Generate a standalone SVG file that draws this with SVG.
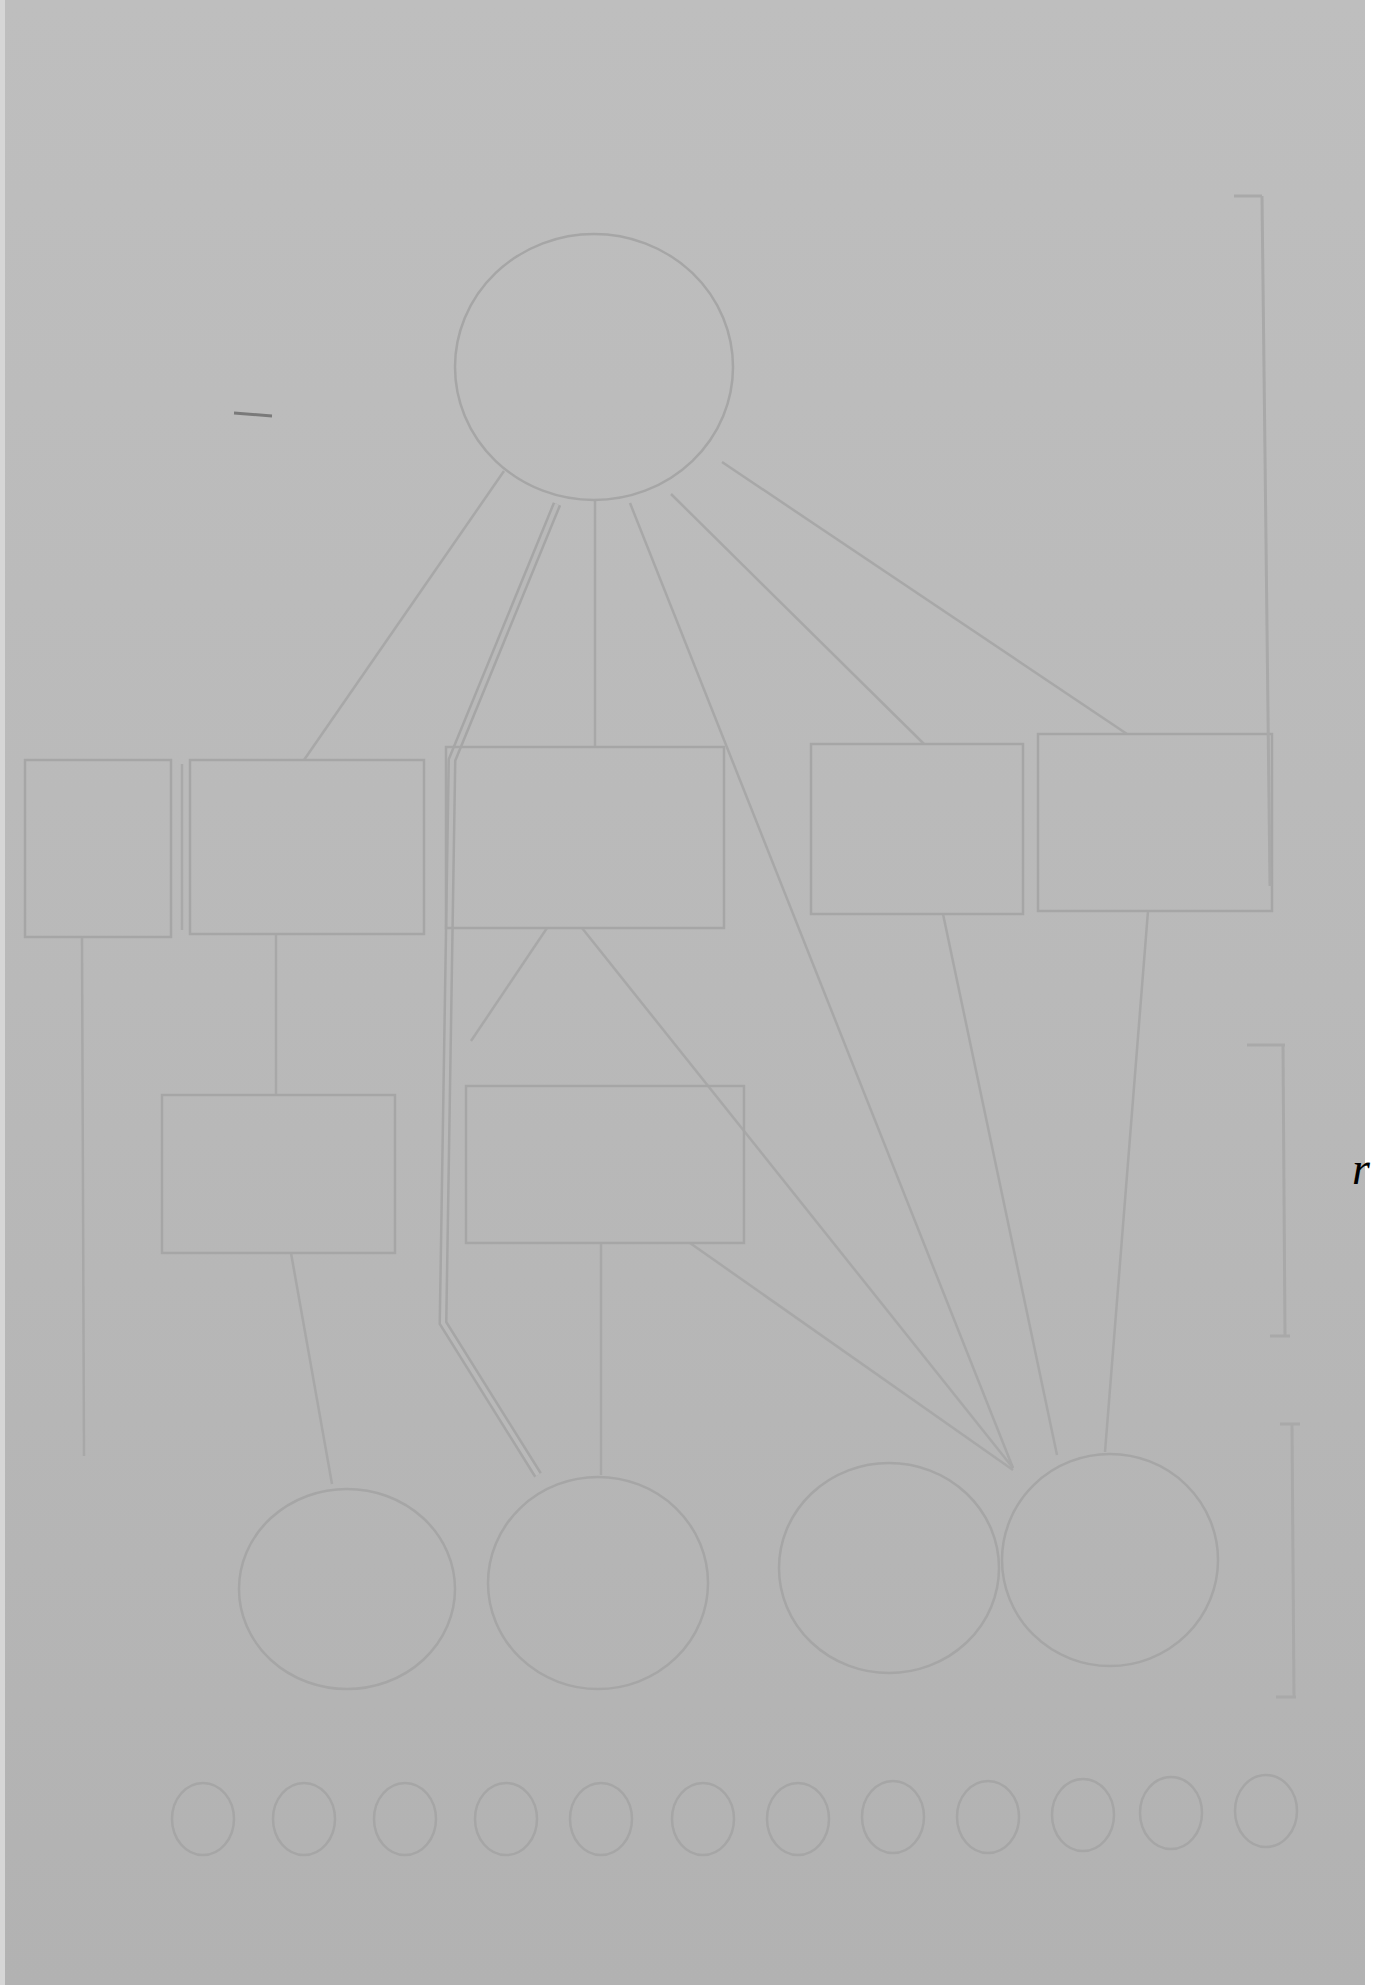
<svg xmlns="http://www.w3.org/2000/svg" width="1380" height="1985" viewBox="0 0 1380 1985">
<style>
.node{fill:none;stroke:#a6a6a6;stroke-width:2.5}
.edge{fill:none;stroke:#a8a8a8;stroke-width:2.5}
.dbl{fill:none;stroke:#a6a6a6;stroke-width:9}
.dblin{fill:none;stroke:#b9b9b9;stroke-width:4}
.brk{fill:none;stroke:#a9a9a9;stroke-width:3}
.sm{fill:none;stroke:#a9a9a9;stroke-width:2.5}
</style>
<defs>
<linearGradient id="bg" x1="0" y1="0" x2="0" y2="1">
<stop offset="0" stop-color="#bebebe"/>
<stop offset="0.5" stop-color="#b9b9b9"/>
<stop offset="1" stop-color="#b2b2b2"/>
</linearGradient>
</defs>
<rect x="0" y="0" width="1380" height="1985" fill="url(#bg)"/>
<rect x="0" y="0" width="5" height="1985" fill="#d6d6d6"/>
<rect x="1365" y="0" width="15" height="1985" fill="#ffffff"/>

<g id="connectors">
<line class="edge" x1="504" y1="471" x2="304" y2="760"/>
<path class="dbl" d="M557,504 L452,760 L443,1323 L538,1475"/>
<path class="dblin" d="M557,504 L452,760 L443,1323 L538,1475"/>
<line class="edge" x1="595" y1="500" x2="595" y2="747"/>
<line class="edge" x1="630" y1="503" x2="1013" y2="1468"/>
<line class="edge" x1="671" y1="494" x2="924" y2="744"/>
<line class="edge" x1="722" y1="462" x2="1127" y2="734"/>
<line class="edge" x1="276" y1="934" x2="276" y2="1095"/>
<line class="edge" x1="547" y1="928" x2="471" y2="1041"/>
<line class="edge" x1="582" y1="928" x2="1013" y2="1468"/>
<line class="edge" x1="601" y1="1243" x2="601" y2="1475"/>
<line class="edge" x1="690" y1="1243" x2="1013" y2="1470"/>
<line class="edge" x1="291" y1="1253" x2="332" y2="1484"/>
<line class="edge" x1="943" y1="914" x2="1057" y2="1455"/>
<line class="edge" x1="1148" y1="911" x2="1105" y2="1452"/>
<line class="edge" x1="82" y1="937" x2="84" y2="1456"/>
</g>

<g id="top-circle"><ellipse class="node" cx="594" cy="367" rx="139" ry="133"/></g>

<g id="box-far-left"><rect class="node" x="25" y="760" width="146" height="177"/></g>
<g id="box-a"><rect class="node" x="190" y="760" width="234" height="174"/><line class="sm" x1="182" y1="764" x2="182" y2="930"/></g>
<g id="box-b"><rect class="node" x="446" y="747" width="278" height="181"/></g>
<g id="box-c"><rect class="node" x="811" y="744" width="212" height="170"/></g>
<g id="box-d"><rect class="node" x="1038" y="734" width="234" height="177"/></g>
<g id="box-e"><rect class="node" x="162" y="1095" width="233" height="158"/></g>
<g id="box-f"><rect class="node" x="466" y="1086" width="278" height="157"/></g>

<g id="circle-1"><ellipse class="node" cx="347" cy="1589" rx="108" ry="100"/></g>
<g id="circle-2"><ellipse class="node" cx="598" cy="1583" rx="110" ry="106"/></g>
<g id="circle-3"><ellipse class="node" cx="889" cy="1568" rx="110" ry="105"/></g>
<g id="circle-4"><ellipse class="node" cx="1110" cy="1560" rx="108" ry="106"/></g>

<g id="small-circles">
<ellipse class="node" cx="203" cy="1819" rx="31" ry="36"/>
<ellipse class="node" cx="304" cy="1819" rx="31" ry="36"/>
<ellipse class="node" cx="405" cy="1819" rx="31" ry="36"/>
<ellipse class="node" cx="506" cy="1819" rx="31" ry="36"/>
<ellipse class="node" cx="601" cy="1819" rx="31" ry="36"/>
<ellipse class="node" cx="703" cy="1819" rx="31" ry="36"/>
<ellipse class="node" cx="798" cy="1819" rx="31" ry="36"/>
<ellipse class="node" cx="893" cy="1817" rx="31" ry="36"/>
<ellipse class="node" cx="988" cy="1817" rx="31" ry="36"/>
<ellipse class="node" cx="1083" cy="1815" rx="31" ry="36"/>
<ellipse class="node" cx="1171" cy="1813" rx="31" ry="36"/>
<ellipse class="node" cx="1266" cy="1811" rx="31" ry="36"/>
</g>

<g id="bracket">
<line class="brk" x1="1234" y1="196" x2="1262" y2="196"/>
<line class="brk" x1="1262" y1="196" x2="1270" y2="886"/>
<line class="brk" x1="1247" y1="1045" x2="1285" y2="1045"/>
<line class="brk" x1="1283" y1="1045" x2="1285" y2="1336"/>
<line class="brk" x1="1270" y1="1336" x2="1290" y2="1336"/>
<line class="brk" x1="1280" y1="1424" x2="1300" y2="1424"/>
<line class="brk" x1="1292" y1="1424" x2="1294" y2="1697"/>
<line class="brk" x1="1276" y1="1697" x2="1296" y2="1697"/>
</g>

<line x1="234" y1="413" x2="272" y2="416" stroke="#7a7a7a" stroke-width="3"/>
<text x="1352" y="1184" font-family="Liberation Serif, serif" font-style="italic" font-size="46" fill="#000000">r</text>
</svg>
